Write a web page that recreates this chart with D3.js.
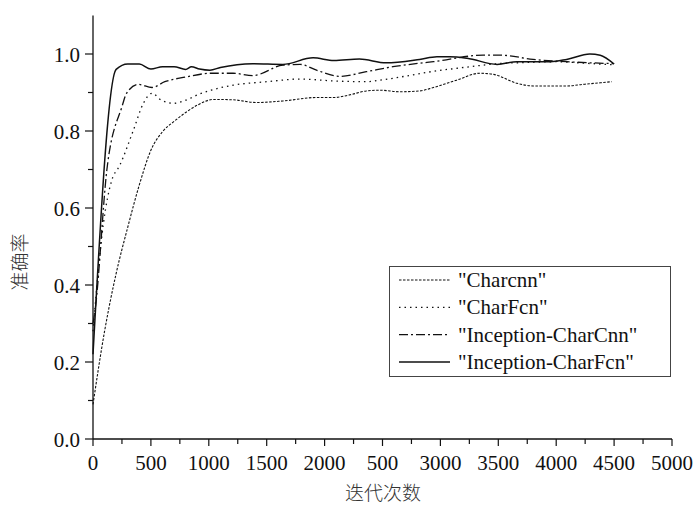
<!DOCTYPE html>
<html>
<head>
<meta charset="utf-8">
<script src="https://cdn.jsdelivr.net/npm/d3@7"></script>
<style>
  body { margin: 0; background: #fff; }
  svg text { font-family: "Liberation Serif", "DejaVu Serif", serif; fill: #111; }
  .cjk { font-family: "Noto Sans CJK SC", sans-serif; fill: #333; font-weight: 300; }
</style>
</head>
<body>
<div id="chart"></div>
<script>
// x tick values and labels (the 2500 label reads "500" in the original)
const xTicks = [0, 500, 1000, 1500, 2000, 2500, 3000, 3500, 4000, 4500, 5000];
const xTickLabels = ["0", "500", "1000", "1500", "2000", "500", "3000", "3500", "4000", "4500", "5000"];
const yTicks = [0, 0.2, 0.4, 0.6, 0.8, 1.0];

const charcnnX = [0,100,200,300,400,500,600,700,800,900,1040,1210,1410,1640,1930,2080,2220,2360,2480,2650,2820,2940,3140,3340,3460,3660,3800,4090,4230,4480];
const charcnnY = [0.09,0.28,0.43,0.55,0.66,0.75,0.798,0.825,0.848,0.867,0.882,0.881,0.874,0.878,0.887,0.887,0.894,0.904,0.906,0.902,0.904,0.913,0.932,0.950,0.947,0.924,0.917,0.917,0.921,0.928];

const charfcnX = [0,90,160,230,350,435,510,590,700,800,920,1020,1210,1500,1790,2080,2360,2480,2650,2940,3230,3500,3750,4000,4250,4500];
const charfcnY = [0.28,0.56,0.67,0.71,0.803,0.872,0.898,0.880,0.872,0.880,0.896,0.906,0.919,0.928,0.935,0.930,0.928,0.932,0.940,0.955,0.966,0.975,0.978,0.980,0.976,0.972];

const incCnnX = [0,20,120,250,290,390,510,620,800,1020,1210,1380,1640,1790,1930,2130,2360,2590,2820,2940,3370,3520,3800,4090,4500];
const incCnnY = [0.30,0.34,0.70,0.863,0.898,0.921,0.913,0.928,0.940,0.950,0.950,0.944,0.971,0.973,0.958,0.942,0.954,0.967,0.976,0.980,0.997,0.997,0.986,0.980,0.975];

const incFcnX = [0,200,300,400,500,600,700,800,850,920,1010,1100,1380,1640,1900,2080,2300,2530,2820,2970,3080,3230,3490,3660,3950,4090,4290,4380,4500];
const incFcnY = [0.22,0.96,0.974,0.974,0.961,0.967,0.967,0.960,0.967,0.961,0.958,0.965,0.975,0.973,0.990,0.983,0.987,0.977,0.986,0.993,0.993,0.989,0.973,0.980,0.980,0.986,1.0,0.997,0.974];

const seriesNames = ['"Charcnn"', '"CharFcn"', '"Inception-CharCnn"', '"Inception-CharFcn"'];

const width = 697, height = 505;

const svg = d3.select("#chart").append("svg")
  .attr("width", width)
  .attr("height", height);

const x = d3.scaleLinear().domain([0, 5000]).range([93, 672]);
const y = d3.scaleLinear().domain([0, 1.1]).range([439, 15.5]);

// styles per series
const styles = [
  {dash: "2.5,1.5", w: 1.1},
  {dash: "1.5,4", w: 1.3},
  {dash: "9,3,2,3", w: 1.3},
  {dash: null, w: 1.5}
];
const series = [
  d3.zip(charcnnX, charcnnY),
  d3.zip(charfcnX, charfcnY),
  d3.zip(incCnnX, incCnnY),
  d3.zip(incFcnX, incFcnY)
];

const line = d3.line()
  .x(d => x(d[0]))
  .y(d => y(d[1]))
  .curve(d3.curveMonotoneX);

svg.append("g").selectAll("path")
  .data(series)
  .join("path")
  .attr("d", line)
  .attr("fill", "none")
  .attr("stroke", "#111")
  .attr("stroke-width", (d, i) => styles[i].w)
  .attr("stroke-dasharray", (d, i) => styles[i].dash);

// x axis
const xAxis = svg.append("g").attr("transform", "translate(0,439)");
xAxis.append("line").attr("x1", x(0)).attr("x2", x(5000)).attr("stroke", "#111").attr("stroke-width", 1.3);
xAxis.selectAll(".minor").data(d3.range(250, 5000, 500)).join("line")
  .attr("x1", d => x(d)).attr("x2", d => x(d)).attr("y1", 0).attr("y2", 5)
  .attr("stroke", "#111").attr("stroke-width", 1.2);
xAxis.selectAll(".major").data(xTicks).join("line")
  .attr("x1", d => x(d)).attr("x2", d => x(d)).attr("y1", 0).attr("y2", 7)
  .attr("stroke", "#111").attr("stroke-width", 1.2);
xAxis.selectAll("text").data(xTicks).join("text")
  .attr("x", d => x(d)).attr("y", 31)
  .attr("text-anchor", "middle")
  .attr("font-size", 21)
  .text((d, i) => xTickLabels[i]);

// y axis
const yAxis = svg.append("g").attr("transform", "translate(93,0)");
yAxis.append("line").attr("y1", y(0)).attr("y2", y(1.1)).attr("stroke", "#111").attr("stroke-width", 1.3);
yAxis.selectAll(".minor").data([0.1, 0.3, 0.5, 0.7, 0.9]).join("line")
  .attr("y1", d => y(d)).attr("y2", d => y(d)).attr("x1", 0).attr("x2", -5)
  .attr("stroke", "#111").attr("stroke-width", 1.2);
yAxis.selectAll(".major").data(yTicks).join("line")
  .attr("y1", d => y(d)).attr("y2", d => y(d)).attr("x1", 0).attr("x2", -8)
  .attr("stroke", "#111").attr("stroke-width", 1.2);
yAxis.selectAll("text").data(yTicks).join("text")
  .attr("x", -13).attr("y", d => y(d) + 7.5)
  .attr("text-anchor", "end")
  .attr("font-size", 21)
  .text(d => d3.format(".1f")(d));

// axis titles
svg.append("text").attr("class", "cjk")
  .attr("x", 383).attr("y", 500)
  .attr("text-anchor", "middle").attr("font-size", 19)
  .text("迭代次数");
svg.append("text").attr("class", "cjk")
  .attr("transform", "translate(27,262) rotate(-90)")
  .attr("text-anchor", "middle").attr("font-size", 19)
  .text("准确率");

// legend
const legend = svg.append("g");
legend.append("rect")
  .attr("x", 389.5).attr("y", 266.5).attr("width", 281).attr("height", 110)
  .attr("fill", "#fff").attr("stroke", "#444").attr("stroke-width", 1);
const rows = legend.selectAll("g.row").data(seriesNames).join("g")
  .attr("transform", (d, i) => `translate(0,${280 + i * 27.3})`);
rows.append("line")
  .attr("x1", 399).attr("x2", 450)
  .attr("stroke", "#111")
  .attr("stroke-width", (d, i) => styles[i].w)
  .attr("stroke-dasharray", (d, i) => styles[i].dash);
rows.append("text")
  .attr("x", 458).attr("y", 7)
  .attr("font-size", 21)
  .text(d => d);
</script>
</body>
</html>
